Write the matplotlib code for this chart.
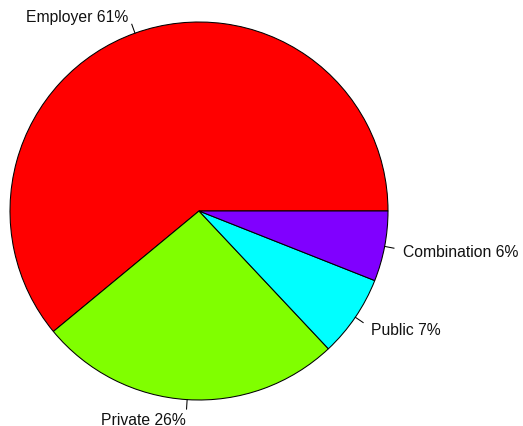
import numpy as np
import matplotlib
matplotlib.use('Agg')
import matplotlib.pyplot as plt

labels = ["Employer 61%", "Private 26%", "Public 7%", "Combination 6%"]
values = [61, 26, 7, 6]
colors = ["#FF0000", "#80FF00", "#00FFFF", "#8000FF"]

W, H = 523, 427
cx, cy, r = 199, H - 212, 189

fig = plt.figure(figsize=(W / 100, H / 100), dpi=100)
ax = fig.add_axes([0, 0, 1, 1])
ax.pie(values, colors=colors, startangle=0, counterclock=True,
       center=(cx, cy), radius=r,
       wedgeprops=dict(edgecolor="black", linewidth=0.75))

# R-style label ticks and text
frac = np.array(values) / sum(values)
mids = (np.cumsum(frac) - frac / 2) * 2 * np.pi
for lab, a in zip(labels, mids):
    c, s = np.cos(a), np.sin(a)
    ax.plot([cx + r * c, cx + 1.05 * r * c], [cy + r * s, cy + 1.05 * r * s],
            color="black", lw=0.75)
    ax.text(cx + 1.1 * r * c, cy + 1.1 * r * s, lab,
            ha="left" if c > 0 else "right", va="center_baseline",
            fontsize=11.3, family="Liberation Sans", color="#111111")

ax.set_xlim(0, W)
ax.set_ylim(0, H)
ax.set_aspect("equal")
ax.axis("off")
fig.savefig("out.png", dpi=100)
